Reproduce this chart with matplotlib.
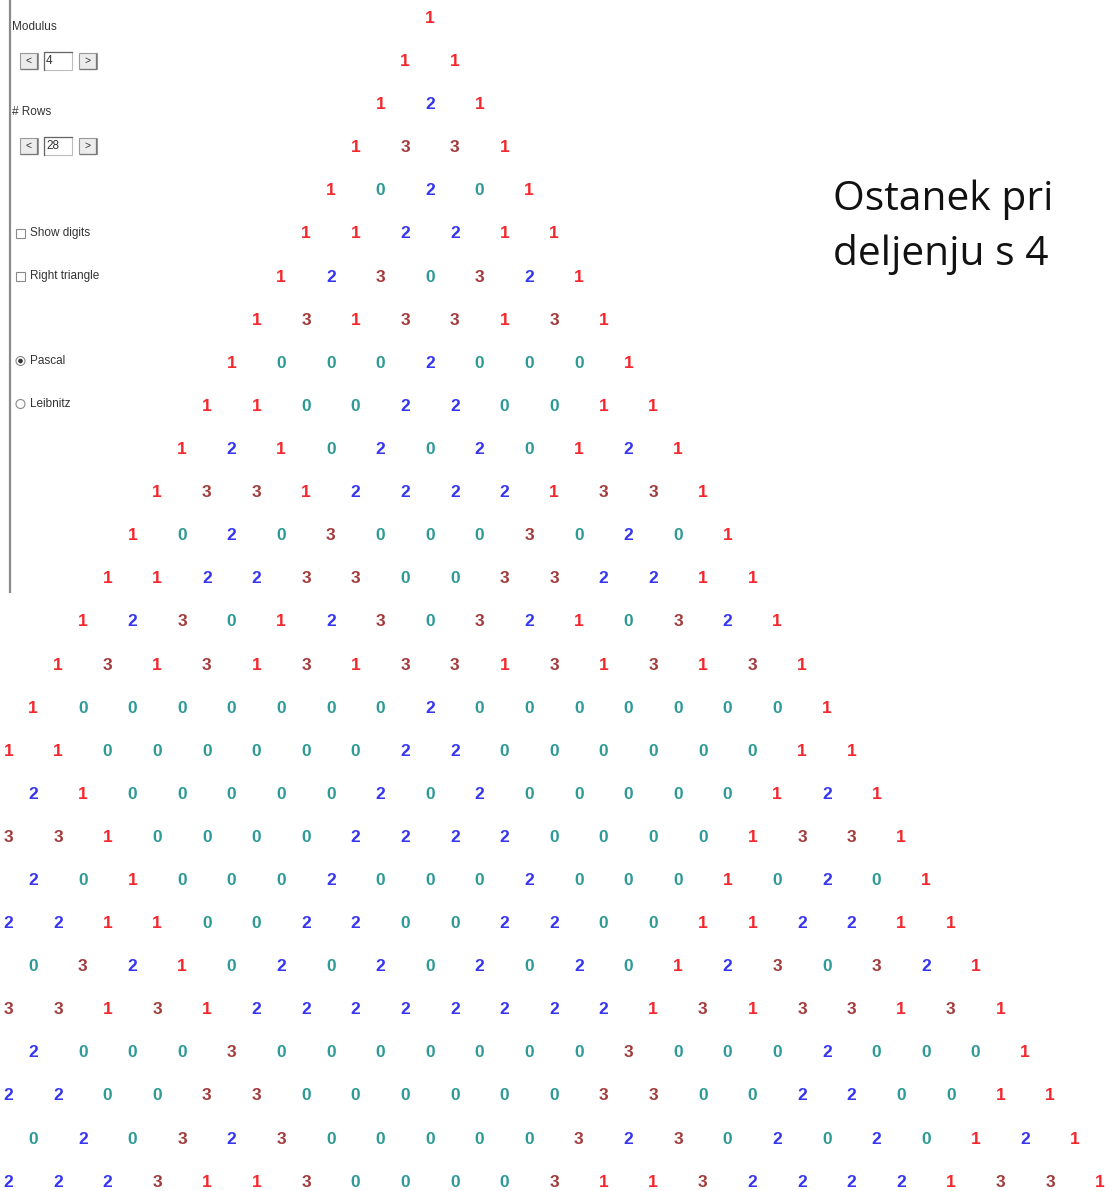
import matplotlib.pyplot as plt
from matplotlib.patches import Rectangle, Circle

# Pascal's triangle mod 4, one string per row
rows = [
    "1",
    "11",
    "121",
    "1331",
    "10201",
    "112211",
    "1230321",
    "13133131",
    "100020001",
    "1100220011",
    "12102020121",
    "133122221331",
    "1020300030201",
    "11223300332211",
    "123012303210321",
    "1313131331313131",
    "10000000200000001",
    "110000002200000011",
    "1210000020200000121",
    "13310000222200001331",
    "102010002000200010201",
    "1122110022002200112211",
    "12303210202020201230321",
    "131331312222222213133131",
    "1000200030000000300020001",
    "11002200330000003300220011",
    "121020203230000032302020121",
    "1331222231130000311322221331",
]
digit_colors = {"0": "#2e9a96", "1": "#f5262c", "2": "#3636f2", "3": "#a23c3c"}

modulus = "4"
n_rows = "28"
caption = ["Ostanek pri", "deljenju s 4"]

W, H = 1112, 1191
fig = plt.figure(figsize=(W / 100, H / 100), dpi=100)
ax = fig.add_axes([0, 0, 1, 1])
ax.set_xlim(0, W)
ax.set_ylim(H, 0)
ax.axis("off")

# triangle layout in pixels
cx, top, dx, dy = 430, 18.5, 49.6, 43.1
for n, row in enumerate(rows):
    for k, d in enumerate(row):
        x = cx + dx * (k - n / 2)
        y = top + dy * n
        ax.text(x, y, d, ha="center", va="center", color=digit_colors[d],
                fontsize=12.5, fontweight="bold", family="Liberation Sans")

for line, base in zip(caption, [210, 265]):
    ax.text(833, base, line, ha="left", va="baseline", fontsize=29.3,
            family="Open Sans", color="#111111")

# --- the little control panel on the left ---
ax.plot([10, 10], [0, 592], color="#8a8a8a", lw=1.6)
gui_font = dict(fontsize=8.5, family="Liberation Sans", color="#333333",
                va="center", ha="left")


def button(x0, y0, label):
    ax.add_patch(Rectangle((x0, y0), 18, 16, facecolor="#ececec",
                           edgecolor="#9a9a9a", lw=0.8))
    ax.plot([x0 + 1, x0 + 17, x0 + 17], [y0 + 15.5, y0 + 15.5, y0 + 1],
            color="#777777", lw=0.9)
    ax.text(x0 + 9, y0 + 8, label, ha="center", va="center", fontsize=7.5,
            family="Liberation Sans", color="#333333")


def spinner(y0, value):
    button(20, y0, "<")
    ax.add_patch(Rectangle((44, y0 - 1), 28, 18, facecolor="white",
                           edgecolor="#bdbdbd", lw=0.8))
    ax.plot([44, 44, 72], [y0 + 17, y0 - 1, y0 - 1], color="#666666", lw=0.9)
    ax.text(46, y0 + 8, value, **gui_font)
    button(79, y0, ">")


ax.text(12, 27, "Modulus", **gui_font)
spinner(53, modulus)
ax.text(12, 112, "# Rows", **gui_font)
spinner(138, n_rows)

for y, label in [(233, "Show digits"), (276, "Right triangle")]:
    ax.add_patch(Rectangle((16, y - 4.5), 9, 9, facecolor="white",
                           edgecolor="#8a8a8a", lw=0.8))
    ax.text(30, y, label, **gui_font)

for y, label, on in [(361, "Pascal", True), (404, "Leibnitz", False)]:
    ax.add_patch(Circle((20.5, y), 4.5, facecolor="white",
                        edgecolor="#8a8a8a", lw=0.8))
    if on:
        ax.add_patch(Circle((20.5, y), 1.6, color="#333333"))
    ax.text(30, y, label, **gui_font)

fig.savefig("out.png", dpi=100)
